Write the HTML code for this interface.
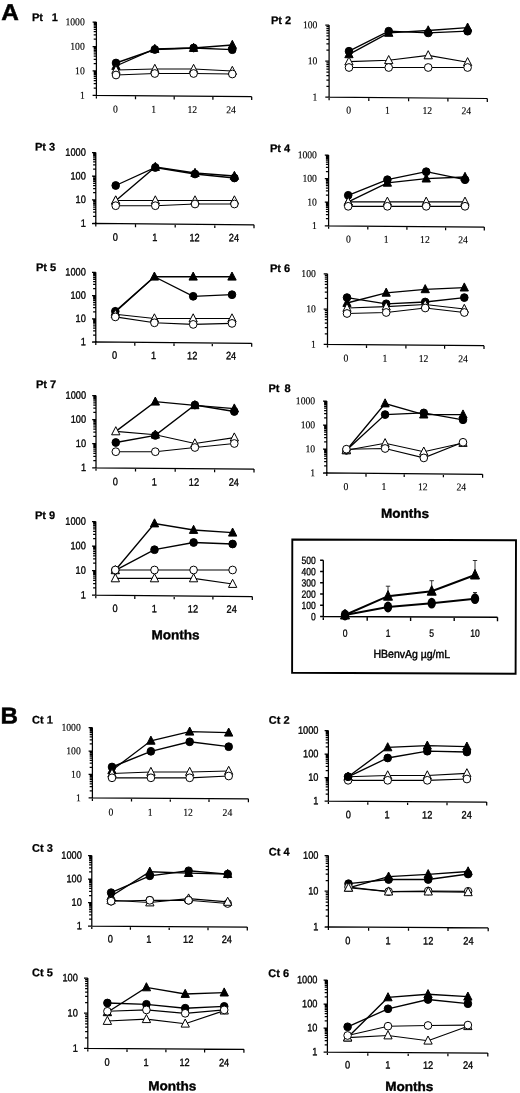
<!DOCTYPE html>
<html><head><meta charset="utf-8"><title>Figure</title>
<style>
html,body{margin:0;padding:0;background:#fff;}
body{width:520px;height:1093px;overflow:hidden;font-family:"Liberation Sans",sans-serif;}
svg{display:block;}
</style></head><body>
<svg width="520" height="1093" viewBox="0 0 520 1093">
<defs><filter id="soft" x="-2%" y="-2%" width="104%" height="104%"><feGaussianBlur stdDeviation="0.35"/></filter></defs>
<rect width="520" height="1093" fill="#fff"/>
<g filter="url(#soft)">
<text transform="translate(32,21) rotate(0.3)" font-family='"Liberation Sans", sans-serif' font-weight="bold" font-size="11" stroke="#000" stroke-width="0.25" word-spacing="1.3" xml:space="preserve">Pt  1</text>
<path d="M96.4 22.0V98.4M93.1 95.37L251.7 96.70M92.6 22.0H96.4M93.7 39.1H96.4M93.7 34.8H96.4M93.7 31.7H96.4M93.7 29.4H96.4M93.7 27.4H96.4M93.7 25.8H96.4M93.7 24.4H96.4M93.7 23.1H96.4M92.6 46.5H96.4M93.7 63.6H96.4M93.7 59.3H96.4M93.7 56.2H96.4M93.7 53.8H96.4M93.7 51.9H96.4M93.7 50.3H96.4M93.7 48.8H96.4M93.7 47.6H96.4M92.6 70.9H96.4M93.7 88.0H96.4M93.7 83.7H96.4M93.7 80.7H96.4M93.7 78.3H96.4M93.7 76.4H96.4M93.7 74.7H96.4M93.7 73.3H96.4M93.7 72.1H96.4M92.6 95.4H96.4M135.5 95.73V99.13M174.2 96.05V99.45M212.9 96.38V99.78M251.7 96.70V100.10" stroke="#000" stroke-width="1.25" fill="none"/>
<text transform="translate(84.7,25.3) rotate(0.3) scale(0.91,1)" text-anchor="end" font-family='"Liberation Serif", serif' font-size="10.6" stroke="#000" stroke-width="0.15">1000</text>
<text transform="translate(84.7,49.8) rotate(0.3) scale(0.91,1)" text-anchor="end" font-family='"Liberation Serif", serif' font-size="10.6" stroke="#000" stroke-width="0.15">100</text>
<text transform="translate(84.7,74.2) rotate(0.3) scale(0.91,1)" text-anchor="end" font-family='"Liberation Serif", serif' font-size="10.6" stroke="#000" stroke-width="0.15">10</text>
<text transform="translate(84.7,98.7) rotate(0.3) scale(0.91,1)" text-anchor="end" font-family='"Liberation Serif", serif' font-size="10.6" stroke="#000" stroke-width="0.15">1</text>
<text transform="translate(115.3,112.60) rotate(0.3) scale(0.91,1)" text-anchor="middle" font-family='"Liberation Serif", serif' font-size="10.6" stroke="#000" stroke-width="0.15">0</text>
<text transform="translate(153.6,112.79) rotate(0.3) scale(0.91,1)" text-anchor="middle" font-family='"Liberation Serif", serif' font-size="10.6" stroke="#000" stroke-width="0.15">1</text>
<text transform="translate(192.3,112.99) rotate(0.3) scale(0.91,1)" text-anchor="middle" font-family='"Liberation Serif", serif' font-size="10.6" stroke="#000" stroke-width="0.15">12</text>
<text transform="translate(231.0,113.18) rotate(0.3) scale(0.91,1)" text-anchor="middle" font-family='"Liberation Serif", serif' font-size="10.6" stroke="#000" stroke-width="0.15">24</text>
<polyline points="116.0,66.0 154.8,49.0 193.6,48.0 232.3,45.0" fill="none" stroke="#000" stroke-width="1.35"/>
<polyline points="116.0,63.0 154.8,49.5 193.6,48.0 232.3,49.7" fill="none" stroke="#000" stroke-width="1.35"/>
<polyline points="116.0,70.0 154.8,69.0 193.6,69.0 232.3,71.0" fill="none" stroke="#000" stroke-width="1.15"/>
<polyline points="116.0,75.0 154.8,73.5 193.6,73.5 232.3,74.0" fill="none" stroke="#000" stroke-width="1.15"/>
<path d="M116.0 61.3L120.1 69.4L111.8 69.4Z" fill="#000" stroke="#000" stroke-width="1" stroke-linejoin="miter"/>
<path d="M154.8 44.3L159.0 52.4L150.7 52.4Z" fill="#000" stroke="#000" stroke-width="1" stroke-linejoin="miter"/>
<path d="M193.6 43.3L197.7 51.4L189.4 51.4Z" fill="#000" stroke="#000" stroke-width="1" stroke-linejoin="miter"/>
<path d="M232.3 40.3L236.5 48.4L228.2 48.4Z" fill="#000" stroke="#000" stroke-width="1" stroke-linejoin="miter"/>
<ellipse cx="116.0" cy="63.0" rx="3.8" ry="3.9" fill="#000" stroke="#000" stroke-width="1"/>
<ellipse cx="154.8" cy="49.5" rx="3.8" ry="3.9" fill="#000" stroke="#000" stroke-width="1"/>
<ellipse cx="193.6" cy="48.0" rx="3.8" ry="3.9" fill="#000" stroke="#000" stroke-width="1"/>
<ellipse cx="232.3" cy="49.7" rx="3.8" ry="3.9" fill="#000" stroke="#000" stroke-width="1"/>
<path d="M116.0 65.3L120.1 73.4L111.8 73.4Z" fill="#fff" stroke="#000" stroke-width="1" stroke-linejoin="miter"/>
<path d="M154.8 64.3L159.0 72.4L150.7 72.4Z" fill="#fff" stroke="#000" stroke-width="1" stroke-linejoin="miter"/>
<path d="M193.6 64.3L197.7 72.4L189.4 72.4Z" fill="#fff" stroke="#000" stroke-width="1" stroke-linejoin="miter"/>
<path d="M232.3 66.3L236.5 74.4L228.2 74.4Z" fill="#fff" stroke="#000" stroke-width="1" stroke-linejoin="miter"/>
<ellipse cx="116.0" cy="75.0" rx="3.8" ry="3.9" fill="#fff" stroke="#000" stroke-width="1"/>
<ellipse cx="154.8" cy="73.5" rx="3.8" ry="3.9" fill="#fff" stroke="#000" stroke-width="1"/>
<ellipse cx="193.6" cy="73.5" rx="3.8" ry="3.9" fill="#fff" stroke="#000" stroke-width="1"/>
<ellipse cx="232.3" cy="74.0" rx="3.8" ry="3.9" fill="#fff" stroke="#000" stroke-width="1"/>
<text transform="translate(271,24) rotate(0.3)" font-family='"Liberation Sans", sans-serif' font-weight="bold" font-size="11" stroke="#000" stroke-width="0.25" word-spacing="0" xml:space="preserve">Pt 2</text>
<path d="M329.1 25.0V100.2M325.8 97.17L487.3 98.50M325.3 25.0H329.1M326.4 50.2H329.1M326.4 43.9H329.1M326.4 39.4H329.1M326.4 35.9H329.1M326.4 33.0H329.1M326.4 30.6H329.1M326.4 28.5H329.1M326.4 26.7H329.1M325.3 61.1H329.1M326.4 86.3H329.1M326.4 80.0H329.1M326.4 75.5H329.1M326.4 72.0H329.1M326.4 69.1H329.1M326.4 66.7H329.1M326.4 64.6H329.1M326.4 62.8H329.1M325.3 97.2H329.1M368.8 97.53V100.93M408.6 97.85V101.25M447.9 98.18V101.58M487.3 98.50V101.90" stroke="#000" stroke-width="1.25" fill="none"/>
<text transform="translate(317.4,28.3) rotate(0.3) scale(0.91,1)" text-anchor="end" font-family='"Liberation Serif", serif' font-size="10.6" stroke="#000" stroke-width="0.15">100</text>
<text transform="translate(317.4,64.4) rotate(0.3) scale(0.91,1)" text-anchor="end" font-family='"Liberation Serif", serif' font-size="10.6" stroke="#000" stroke-width="0.15">10</text>
<text transform="translate(317.4,100.5) rotate(0.3) scale(0.91,1)" text-anchor="end" font-family='"Liberation Serif", serif' font-size="10.6" stroke="#000" stroke-width="0.15">1</text>
<text transform="translate(348.6,113.60) rotate(0.3) scale(0.91,1)" text-anchor="middle" font-family='"Liberation Serif", serif' font-size="10.6" stroke="#000" stroke-width="0.15">0</text>
<text transform="translate(387.5,113.79) rotate(0.3) scale(0.91,1)" text-anchor="middle" font-family='"Liberation Serif", serif' font-size="10.6" stroke="#000" stroke-width="0.15">1</text>
<text transform="translate(427.3,113.99) rotate(0.3) scale(0.91,1)" text-anchor="middle" font-family='"Liberation Serif", serif' font-size="10.6" stroke="#000" stroke-width="0.15">12</text>
<text transform="translate(466.3,114.18) rotate(0.3) scale(0.91,1)" text-anchor="middle" font-family='"Liberation Serif", serif' font-size="10.6" stroke="#000" stroke-width="0.15">24</text>
<polyline points="349.0,54.3 388.7,32.9 428.2,30.5 467.6,27.7" fill="none" stroke="#000" stroke-width="1.35"/>
<polyline points="349.0,51.2 388.7,31.2 428.2,32.9 467.6,31.2" fill="none" stroke="#000" stroke-width="1.35"/>
<polyline points="349.0,61.6 388.7,60.2 428.2,55.4 467.6,62.3" fill="none" stroke="#000" stroke-width="1.15"/>
<polyline points="349.0,67.5 388.7,67.5 428.2,67.5 467.6,67.5" fill="none" stroke="#000" stroke-width="1.15"/>
<path d="M349.0 49.6L353.1 57.7L344.8 57.7Z" fill="#000" stroke="#000" stroke-width="1" stroke-linejoin="miter"/>
<path d="M388.7 28.2L392.9 36.3L384.6 36.3Z" fill="#000" stroke="#000" stroke-width="1" stroke-linejoin="miter"/>
<path d="M428.2 25.8L432.4 33.9L424.1 33.9Z" fill="#000" stroke="#000" stroke-width="1" stroke-linejoin="miter"/>
<path d="M467.6 23.0L471.8 31.1L463.5 31.1Z" fill="#000" stroke="#000" stroke-width="1" stroke-linejoin="miter"/>
<ellipse cx="349.0" cy="51.2" rx="3.8" ry="3.9" fill="#000" stroke="#000" stroke-width="1"/>
<ellipse cx="388.7" cy="31.2" rx="3.8" ry="3.9" fill="#000" stroke="#000" stroke-width="1"/>
<ellipse cx="428.2" cy="32.9" rx="3.8" ry="3.9" fill="#000" stroke="#000" stroke-width="1"/>
<ellipse cx="467.6" cy="31.2" rx="3.8" ry="3.9" fill="#000" stroke="#000" stroke-width="1"/>
<path d="M349.0 56.9L353.1 65.0L344.8 65.0Z" fill="#fff" stroke="#000" stroke-width="1" stroke-linejoin="miter"/>
<path d="M388.7 55.5L392.9 63.6L384.6 63.6Z" fill="#fff" stroke="#000" stroke-width="1" stroke-linejoin="miter"/>
<path d="M428.2 50.7L432.4 58.8L424.1 58.8Z" fill="#fff" stroke="#000" stroke-width="1" stroke-linejoin="miter"/>
<path d="M467.6 57.6L471.8 65.7L463.5 65.7Z" fill="#fff" stroke="#000" stroke-width="1" stroke-linejoin="miter"/>
<ellipse cx="349.0" cy="67.5" rx="3.8" ry="3.9" fill="#fff" stroke="#000" stroke-width="1"/>
<ellipse cx="388.7" cy="67.5" rx="3.8" ry="3.9" fill="#fff" stroke="#000" stroke-width="1"/>
<ellipse cx="428.2" cy="67.5" rx="3.8" ry="3.9" fill="#fff" stroke="#000" stroke-width="1"/>
<ellipse cx="467.6" cy="67.5" rx="3.8" ry="3.9" fill="#fff" stroke="#000" stroke-width="1"/>
<text transform="translate(35,150.5) rotate(0.3)" font-family='"Liberation Sans", sans-serif' font-weight="bold" font-size="11" stroke="#000" stroke-width="0.25" word-spacing="0" xml:space="preserve">Pt 3</text>
<path d="M95.8 152.5V226.5M92.5 223.47L254.0 224.80M92.0 152.5H95.8M93.1 169.0H95.8M93.1 164.9H95.8M93.1 161.9H95.8M93.1 159.6H95.8M93.1 157.8H95.8M93.1 156.2H95.8M93.1 154.8H95.8M93.1 153.6H95.8M92.0 176.2H95.8M93.1 192.7H95.8M93.1 188.5H95.8M93.1 185.6H95.8M93.1 183.3H95.8M93.1 181.4H95.8M93.1 179.8H95.8M93.1 178.5H95.8M93.1 177.2H95.8M92.0 199.8H95.8M93.1 216.4H95.8M93.1 212.2H95.8M93.1 209.3H95.8M93.1 207.0H95.8M93.1 205.1H95.8M93.1 203.5H95.8M93.1 202.1H95.8M93.1 200.9H95.8M92.0 223.5H95.8M135.5 223.83V227.23M175.2 224.15V227.55M214.8 224.48V227.88M254.0 224.80V228.20" stroke="#000" stroke-width="1.25" fill="none"/>
<text transform="translate(85.8,155.8) rotate(0.3) scale(0.86,1)" text-anchor="end" font-family='"Liberation Sans", sans-serif' font-size="10.7" stroke="#000" stroke-width="0.35">1000</text>
<text transform="translate(85.8,179.5) rotate(0.3) scale(0.86,1)" text-anchor="end" font-family='"Liberation Sans", sans-serif' font-size="10.7" stroke="#000" stroke-width="0.35">100</text>
<text transform="translate(85.8,203.1) rotate(0.3) scale(0.86,1)" text-anchor="end" font-family='"Liberation Sans", sans-serif' font-size="10.7" stroke="#000" stroke-width="0.35">10</text>
<text transform="translate(85.8,226.8) rotate(0.3) scale(0.86,1)" text-anchor="end" font-family='"Liberation Sans", sans-serif' font-size="10.7" stroke="#000" stroke-width="0.35">1</text>
<text transform="translate(115.2,240.80) rotate(0.3) scale(0.86,1)" text-anchor="middle" font-family='"Liberation Sans", sans-serif' font-size="10.7" stroke="#000" stroke-width="0.35">0</text>
<text transform="translate(154.9,241.00) rotate(0.3) scale(0.86,1)" text-anchor="middle" font-family='"Liberation Sans", sans-serif' font-size="10.7" stroke="#000" stroke-width="0.35">1</text>
<text transform="translate(194.5,241.19) rotate(0.3) scale(0.86,1)" text-anchor="middle" font-family='"Liberation Sans", sans-serif' font-size="10.7" stroke="#000" stroke-width="0.35">12</text>
<text transform="translate(233.9,241.39) rotate(0.3) scale(0.86,1)" text-anchor="middle" font-family='"Liberation Sans", sans-serif' font-size="10.7" stroke="#000" stroke-width="0.35">24</text>
<polyline points="115.7,200.8 155.3,167.0 195.0,173.0 234.4,176.0" fill="none" stroke="#000" stroke-width="1.35"/>
<polyline points="115.7,185.5 155.3,167.5 195.0,174.0 234.4,178.0" fill="none" stroke="#000" stroke-width="1.35"/>
<polyline points="115.7,200.5 155.3,200.5 195.0,200.5 234.4,200.5" fill="none" stroke="#000" stroke-width="1.15"/>
<polyline points="115.7,205.7 155.3,205.7 195.0,204.0 234.4,204.0" fill="none" stroke="#000" stroke-width="1.15"/>
<path d="M115.7 196.1L119.8 204.2L111.5 204.2Z" fill="#000" stroke="#000" stroke-width="1" stroke-linejoin="miter"/>
<path d="M155.3 162.3L159.5 170.4L151.2 170.4Z" fill="#000" stroke="#000" stroke-width="1" stroke-linejoin="miter"/>
<path d="M195.0 168.3L199.2 176.4L190.8 176.4Z" fill="#000" stroke="#000" stroke-width="1" stroke-linejoin="miter"/>
<path d="M234.4 171.3L238.6 179.4L230.2 179.4Z" fill="#000" stroke="#000" stroke-width="1" stroke-linejoin="miter"/>
<ellipse cx="115.7" cy="185.5" rx="3.8" ry="3.9" fill="#000" stroke="#000" stroke-width="1"/>
<ellipse cx="155.3" cy="167.5" rx="3.8" ry="3.9" fill="#000" stroke="#000" stroke-width="1"/>
<ellipse cx="195.0" cy="174.0" rx="3.8" ry="3.9" fill="#000" stroke="#000" stroke-width="1"/>
<ellipse cx="234.4" cy="178.0" rx="3.8" ry="3.9" fill="#000" stroke="#000" stroke-width="1"/>
<path d="M115.7 195.8L119.8 203.9L111.5 203.9Z" fill="#fff" stroke="#000" stroke-width="1" stroke-linejoin="miter"/>
<path d="M155.3 195.8L159.5 203.9L151.2 203.9Z" fill="#fff" stroke="#000" stroke-width="1" stroke-linejoin="miter"/>
<path d="M195.0 195.8L199.2 203.9L190.8 203.9Z" fill="#fff" stroke="#000" stroke-width="1" stroke-linejoin="miter"/>
<path d="M234.4 195.8L238.6 203.9L230.2 203.9Z" fill="#fff" stroke="#000" stroke-width="1" stroke-linejoin="miter"/>
<ellipse cx="115.7" cy="205.7" rx="3.8" ry="3.9" fill="#fff" stroke="#000" stroke-width="1"/>
<ellipse cx="155.3" cy="205.7" rx="3.8" ry="3.9" fill="#fff" stroke="#000" stroke-width="1"/>
<ellipse cx="195.0" cy="204.0" rx="3.8" ry="3.9" fill="#fff" stroke="#000" stroke-width="1"/>
<ellipse cx="234.4" cy="204.0" rx="3.8" ry="3.9" fill="#fff" stroke="#000" stroke-width="1"/>
<text transform="translate(270,151.9) rotate(0.3)" font-family='"Liberation Sans", sans-serif' font-weight="bold" font-size="11" stroke="#000" stroke-width="0.25" word-spacing="0" xml:space="preserve">Pt 4</text>
<path d="M328.6 155.0V228.8M325.3 225.77L484.3 227.10M324.8 155.0H328.6M325.9 171.5H328.6M325.9 167.3H328.6M325.9 164.4H328.6M325.9 162.1H328.6M325.9 160.2H328.6M325.9 158.7H328.6M325.9 157.3H328.6M325.9 156.1H328.6M324.8 178.6H328.6M325.9 195.1H328.6M325.9 190.9H328.6M325.9 188.0H328.6M325.9 185.7H328.6M325.9 183.8H328.6M325.9 182.3H328.6M325.9 180.9H328.6M325.9 179.7H328.6M324.8 202.2H328.6M325.9 218.7H328.6M325.9 214.5H328.6M325.9 211.6H328.6M325.9 209.3H328.6M325.9 207.4H328.6M325.9 205.9H328.6M325.9 204.5H328.6M325.9 203.3H328.6M324.8 225.8H328.6M367.8 226.13V229.53M406.9 226.45V229.85M445.6 226.78V230.18M484.3 227.10V230.50" stroke="#000" stroke-width="1.25" fill="none"/>
<text transform="translate(316.9,158.3) rotate(0.3) scale(0.91,1)" text-anchor="end" font-family='"Liberation Serif", serif' font-size="10.6" stroke="#000" stroke-width="0.15">1000</text>
<text transform="translate(316.9,181.9) rotate(0.3) scale(0.91,1)" text-anchor="end" font-family='"Liberation Serif", serif' font-size="10.6" stroke="#000" stroke-width="0.15">100</text>
<text transform="translate(316.9,205.5) rotate(0.3) scale(0.91,1)" text-anchor="end" font-family='"Liberation Serif", serif' font-size="10.6" stroke="#000" stroke-width="0.15">10</text>
<text transform="translate(316.9,229.1) rotate(0.3) scale(0.91,1)" text-anchor="end" font-family='"Liberation Serif", serif' font-size="10.6" stroke="#000" stroke-width="0.15">1</text>
<text transform="translate(348.3,242.60) rotate(0.3) scale(0.91,1)" text-anchor="middle" font-family='"Liberation Serif", serif' font-size="10.6" stroke="#000" stroke-width="0.15">0</text>
<text transform="translate(386.2,242.79) rotate(0.3) scale(0.91,1)" text-anchor="middle" font-family='"Liberation Serif", serif' font-size="10.6" stroke="#000" stroke-width="0.15">1</text>
<text transform="translate(424.9,242.98) rotate(0.3) scale(0.91,1)" text-anchor="middle" font-family='"Liberation Serif", serif' font-size="10.6" stroke="#000" stroke-width="0.15">12</text>
<text transform="translate(463.1,243.18) rotate(0.3) scale(0.91,1)" text-anchor="middle" font-family='"Liberation Serif", serif' font-size="10.6" stroke="#000" stroke-width="0.15">24</text>
<polyline points="348.2,201.8 387.4,182.8 426.2,178.6 465.0,177.0" fill="none" stroke="#000" stroke-width="1.35"/>
<polyline points="348.2,195.3 387.4,179.7 426.2,171.7 465.0,179.7" fill="none" stroke="#000" stroke-width="1.35"/>
<polyline points="348.2,201.8 387.4,201.8 426.2,201.8 465.0,201.8" fill="none" stroke="#000" stroke-width="1.15"/>
<polyline points="348.2,206.3 387.4,206.3 426.2,206.3 465.0,206.3" fill="none" stroke="#000" stroke-width="1.15"/>
<path d="M348.2 197.1L352.4 205.2L344.1 205.2Z" fill="#000" stroke="#000" stroke-width="1" stroke-linejoin="miter"/>
<path d="M387.4 178.1L391.5 186.2L383.2 186.2Z" fill="#000" stroke="#000" stroke-width="1" stroke-linejoin="miter"/>
<path d="M426.2 173.9L430.4 182.0L422.1 182.0Z" fill="#000" stroke="#000" stroke-width="1" stroke-linejoin="miter"/>
<path d="M465.0 172.3L469.1 180.4L460.8 180.4Z" fill="#000" stroke="#000" stroke-width="1" stroke-linejoin="miter"/>
<ellipse cx="348.2" cy="195.3" rx="3.8" ry="3.9" fill="#000" stroke="#000" stroke-width="1"/>
<ellipse cx="387.4" cy="179.7" rx="3.8" ry="3.9" fill="#000" stroke="#000" stroke-width="1"/>
<ellipse cx="426.2" cy="171.7" rx="3.8" ry="3.9" fill="#000" stroke="#000" stroke-width="1"/>
<ellipse cx="465.0" cy="179.7" rx="3.8" ry="3.9" fill="#000" stroke="#000" stroke-width="1"/>
<path d="M348.2 197.1L352.4 205.2L344.1 205.2Z" fill="#fff" stroke="#000" stroke-width="1" stroke-linejoin="miter"/>
<path d="M387.4 197.1L391.5 205.2L383.2 205.2Z" fill="#fff" stroke="#000" stroke-width="1" stroke-linejoin="miter"/>
<path d="M426.2 197.1L430.4 205.2L422.1 205.2Z" fill="#fff" stroke="#000" stroke-width="1" stroke-linejoin="miter"/>
<path d="M465.0 197.1L469.1 205.2L460.8 205.2Z" fill="#fff" stroke="#000" stroke-width="1" stroke-linejoin="miter"/>
<ellipse cx="348.2" cy="206.3" rx="3.8" ry="3.9" fill="#fff" stroke="#000" stroke-width="1"/>
<ellipse cx="387.4" cy="206.3" rx="3.8" ry="3.9" fill="#fff" stroke="#000" stroke-width="1"/>
<ellipse cx="426.2" cy="206.3" rx="3.8" ry="3.9" fill="#fff" stroke="#000" stroke-width="1"/>
<ellipse cx="465.0" cy="206.3" rx="3.8" ry="3.9" fill="#fff" stroke="#000" stroke-width="1"/>
<text transform="translate(36,271) rotate(0.3)" font-family='"Liberation Sans", sans-serif' font-weight="bold" font-size="11" stroke="#000" stroke-width="0.25" word-spacing="0" xml:space="preserve">Pt 5</text>
<path d="M95.8 272.3V345.0M92.5 341.97L251.7 343.30M92.0 272.3H95.8M93.1 288.5H95.8M93.1 284.4H95.8M93.1 281.5H95.8M93.1 279.3H95.8M93.1 277.5H95.8M93.1 275.9H95.8M93.1 274.6H95.8M93.1 273.4H95.8M92.0 295.5H95.8M93.1 311.8H95.8M93.1 307.7H95.8M93.1 304.8H95.8M93.1 302.5H95.8M93.1 300.7H95.8M93.1 299.1H95.8M93.1 297.8H95.8M93.1 296.6H95.8M92.0 318.8H95.8M93.1 335.0H95.8M93.1 330.9H95.8M93.1 328.0H95.8M93.1 325.8H95.8M93.1 323.9H95.8M93.1 322.4H95.8M93.1 321.0H95.8M93.1 319.8H95.8M92.0 342.0H95.8M134.8 342.33V345.73M174.0 342.65V346.05M212.3 342.97V346.37M251.7 343.30V346.70" stroke="#000" stroke-width="1.25" fill="none"/>
<text transform="translate(85.8,275.6) rotate(0.3) scale(0.86,1)" text-anchor="end" font-family='"Liberation Sans", sans-serif' font-size="10.7" stroke="#000" stroke-width="0.35">1000</text>
<text transform="translate(85.8,298.8) rotate(0.3) scale(0.86,1)" text-anchor="end" font-family='"Liberation Sans", sans-serif' font-size="10.7" stroke="#000" stroke-width="0.35">100</text>
<text transform="translate(85.8,322.1) rotate(0.3) scale(0.86,1)" text-anchor="end" font-family='"Liberation Sans", sans-serif' font-size="10.7" stroke="#000" stroke-width="0.35">10</text>
<text transform="translate(85.8,345.3) rotate(0.3) scale(0.86,1)" text-anchor="end" font-family='"Liberation Sans", sans-serif' font-size="10.7" stroke="#000" stroke-width="0.35">1</text>
<text transform="translate(114.6,358.80) rotate(0.3) scale(0.86,1)" text-anchor="middle" font-family='"Liberation Sans", sans-serif' font-size="10.7" stroke="#000" stroke-width="0.35">0</text>
<text transform="translate(153.5,358.99) rotate(0.3) scale(0.86,1)" text-anchor="middle" font-family='"Liberation Sans", sans-serif' font-size="10.7" stroke="#000" stroke-width="0.35">1</text>
<text transform="translate(192.2,359.19) rotate(0.3) scale(0.86,1)" text-anchor="middle" font-family='"Liberation Sans", sans-serif' font-size="10.7" stroke="#000" stroke-width="0.35">12</text>
<text transform="translate(231.0,359.38) rotate(0.3) scale(0.86,1)" text-anchor="middle" font-family='"Liberation Sans", sans-serif' font-size="10.7" stroke="#000" stroke-width="0.35">24</text>
<polyline points="115.3,312.0 154.4,276.7 193.2,276.7 232.0,276.7" fill="none" stroke="#000" stroke-width="1.35"/>
<polyline points="115.3,311.3 154.4,276.7 193.2,296.3 232.0,294.7" fill="none" stroke="#000" stroke-width="1.35"/>
<polyline points="115.3,314.3 154.4,318.5 193.2,318.5 232.0,318.5" fill="none" stroke="#000" stroke-width="1.15"/>
<polyline points="115.3,316.9 154.4,322.8 193.2,324.4 232.0,323.4" fill="none" stroke="#000" stroke-width="1.15"/>
<path d="M115.3 307.3L119.5 315.4L111.2 315.4Z" fill="#000" stroke="#000" stroke-width="1" stroke-linejoin="miter"/>
<path d="M154.4 272.0L158.6 280.1L150.2 280.1Z" fill="#000" stroke="#000" stroke-width="1" stroke-linejoin="miter"/>
<path d="M193.2 272.0L197.3 280.1L189.0 280.1Z" fill="#000" stroke="#000" stroke-width="1" stroke-linejoin="miter"/>
<path d="M232.0 272.0L236.2 280.1L227.8 280.1Z" fill="#000" stroke="#000" stroke-width="1" stroke-linejoin="miter"/>
<ellipse cx="115.3" cy="311.3" rx="3.8" ry="3.9" fill="#000" stroke="#000" stroke-width="1"/>
<ellipse cx="193.2" cy="296.3" rx="3.8" ry="3.9" fill="#000" stroke="#000" stroke-width="1"/>
<ellipse cx="232.0" cy="294.7" rx="3.8" ry="3.9" fill="#000" stroke="#000" stroke-width="1"/>
<path d="M115.3 309.6L119.5 317.7L111.2 317.7Z" fill="#fff" stroke="#000" stroke-width="1" stroke-linejoin="miter"/>
<path d="M154.4 313.8L158.6 321.9L150.2 321.9Z" fill="#fff" stroke="#000" stroke-width="1" stroke-linejoin="miter"/>
<path d="M193.2 313.8L197.3 321.9L189.0 321.9Z" fill="#fff" stroke="#000" stroke-width="1" stroke-linejoin="miter"/>
<path d="M232.0 313.8L236.2 321.9L227.8 321.9Z" fill="#fff" stroke="#000" stroke-width="1" stroke-linejoin="miter"/>
<ellipse cx="115.3" cy="316.9" rx="3.8" ry="3.9" fill="#fff" stroke="#000" stroke-width="1"/>
<ellipse cx="154.4" cy="322.8" rx="3.8" ry="3.9" fill="#fff" stroke="#000" stroke-width="1"/>
<ellipse cx="193.2" cy="324.4" rx="3.8" ry="3.9" fill="#fff" stroke="#000" stroke-width="1"/>
<ellipse cx="232.0" cy="323.4" rx="3.8" ry="3.9" fill="#fff" stroke="#000" stroke-width="1"/>
<text transform="translate(270,272) rotate(0.3)" font-family='"Liberation Sans", sans-serif' font-weight="bold" font-size="11" stroke="#000" stroke-width="0.25" word-spacing="0" xml:space="preserve">Pt 6</text>
<path d="M327.5 273.8V347.4M324.2 344.37L484.0 345.70M323.7 273.8H327.5M324.8 298.4H327.5M324.8 292.2H327.5M324.8 287.8H327.5M324.8 284.4H327.5M324.8 281.6H327.5M324.8 279.2H327.5M324.8 277.2H327.5M324.8 275.4H327.5M323.7 309.1H327.5M324.8 333.8H327.5M324.8 327.5H327.5M324.8 323.1H327.5M324.8 319.7H327.5M324.8 316.9H327.5M324.8 314.5H327.5M324.8 312.5H327.5M324.8 310.7H327.5M323.7 344.4H327.5M366.5 344.72V348.12M405.9 345.05V348.45M444.6 345.37V348.77M484.0 345.70V349.10" stroke="#000" stroke-width="1.25" fill="none"/>
<text transform="translate(315.8,277.1) rotate(0.3) scale(0.91,1)" text-anchor="end" font-family='"Liberation Serif", serif' font-size="10.6" stroke="#000" stroke-width="0.15">100</text>
<text transform="translate(315.8,312.4) rotate(0.3) scale(0.91,1)" text-anchor="end" font-family='"Liberation Serif", serif' font-size="10.6" stroke="#000" stroke-width="0.15">10</text>
<text transform="translate(315.8,347.7) rotate(0.3) scale(0.91,1)" text-anchor="end" font-family='"Liberation Serif", serif' font-size="10.6" stroke="#000" stroke-width="0.15">1</text>
<text transform="translate(346.0,361.60) rotate(0.3) scale(0.91,1)" text-anchor="middle" font-family='"Liberation Serif", serif' font-size="10.6" stroke="#000" stroke-width="0.15">0</text>
<text transform="translate(385.0,361.79) rotate(0.3) scale(0.91,1)" text-anchor="middle" font-family='"Liberation Serif", serif' font-size="10.6" stroke="#000" stroke-width="0.15">1</text>
<text transform="translate(423.5,361.99) rotate(0.3) scale(0.91,1)" text-anchor="middle" font-family='"Liberation Serif", serif' font-size="10.6" stroke="#000" stroke-width="0.15">12</text>
<text transform="translate(463.1,362.18) rotate(0.3) scale(0.91,1)" text-anchor="middle" font-family='"Liberation Serif", serif' font-size="10.6" stroke="#000" stroke-width="0.15">24</text>
<polyline points="347.0,303.0 386.2,292.8 425.2,289.3 464.3,287.6" fill="none" stroke="#000" stroke-width="1.35"/>
<polyline points="347.0,297.6 386.2,303.8 425.2,302.0 464.3,297.6" fill="none" stroke="#000" stroke-width="1.35"/>
<polyline points="347.0,308.0 386.2,306.6 425.2,304.5 464.3,309.0" fill="none" stroke="#000" stroke-width="1.15"/>
<polyline points="347.0,313.5 386.2,312.5 425.2,308.0 464.3,312.5" fill="none" stroke="#000" stroke-width="1.15"/>
<path d="M347.0 298.3L351.1 306.4L342.9 306.4Z" fill="#000" stroke="#000" stroke-width="1" stroke-linejoin="miter"/>
<path d="M386.2 288.1L390.3 296.2L382.1 296.2Z" fill="#000" stroke="#000" stroke-width="1" stroke-linejoin="miter"/>
<path d="M425.2 284.6L429.4 292.7L421.1 292.7Z" fill="#000" stroke="#000" stroke-width="1" stroke-linejoin="miter"/>
<path d="M464.3 282.9L468.4 291.0L460.2 291.0Z" fill="#000" stroke="#000" stroke-width="1" stroke-linejoin="miter"/>
<ellipse cx="347.0" cy="297.6" rx="3.8" ry="3.9" fill="#000" stroke="#000" stroke-width="1"/>
<ellipse cx="386.2" cy="303.8" rx="3.8" ry="3.9" fill="#000" stroke="#000" stroke-width="1"/>
<ellipse cx="425.2" cy="302.0" rx="3.8" ry="3.9" fill="#000" stroke="#000" stroke-width="1"/>
<ellipse cx="464.3" cy="297.6" rx="3.8" ry="3.9" fill="#000" stroke="#000" stroke-width="1"/>
<path d="M347.0 303.3L351.1 311.4L342.9 311.4Z" fill="#fff" stroke="#000" stroke-width="1" stroke-linejoin="miter"/>
<path d="M386.2 301.9L390.3 310.0L382.1 310.0Z" fill="#fff" stroke="#000" stroke-width="1" stroke-linejoin="miter"/>
<path d="M425.2 299.8L429.4 307.9L421.1 307.9Z" fill="#fff" stroke="#000" stroke-width="1" stroke-linejoin="miter"/>
<path d="M464.3 304.3L468.4 312.4L460.2 312.4Z" fill="#fff" stroke="#000" stroke-width="1" stroke-linejoin="miter"/>
<ellipse cx="347.0" cy="313.5" rx="3.8" ry="3.9" fill="#fff" stroke="#000" stroke-width="1"/>
<ellipse cx="386.2" cy="312.5" rx="3.8" ry="3.9" fill="#fff" stroke="#000" stroke-width="1"/>
<ellipse cx="425.2" cy="308.0" rx="3.8" ry="3.9" fill="#fff" stroke="#000" stroke-width="1"/>
<ellipse cx="464.3" cy="312.5" rx="3.8" ry="3.9" fill="#fff" stroke="#000" stroke-width="1"/>
<text transform="translate(36,388) rotate(0.3)" font-family='"Liberation Sans", sans-serif' font-weight="bold" font-size="11" stroke="#000" stroke-width="0.25" word-spacing="0" xml:space="preserve">Pt 7</text>
<path d="M96.0 395.5V470.8M92.7 467.77L254.0 469.10M92.2 395.5H96.0M93.3 412.3H96.0M93.3 408.1H96.0M93.3 405.1H96.0M93.3 402.8H96.0M93.3 400.8H96.0M93.3 399.2H96.0M93.3 397.8H96.0M93.3 396.6H96.0M92.2 419.6H96.0M93.3 436.4H96.0M93.3 432.2H96.0M93.3 429.2H96.0M93.3 426.9H96.0M93.3 424.9H96.0M93.3 423.3H96.0M93.3 421.9H96.0M93.3 420.7H96.0M92.2 443.7H96.0M93.3 460.5H96.0M93.3 456.3H96.0M93.3 453.3H96.0M93.3 451.0H96.0M93.3 449.0H96.0M93.3 447.4H96.0M93.3 446.0H96.0M93.3 444.8H96.0M92.2 467.8H96.0M135.5 468.12V471.52M175.2 468.45V471.85M214.6 468.78V472.18M254.0 469.10V472.50" stroke="#000" stroke-width="1.25" fill="none"/>
<text transform="translate(86.0,398.8) rotate(0.3) scale(0.86,1)" text-anchor="end" font-family='"Liberation Sans", sans-serif' font-size="10.7" stroke="#000" stroke-width="0.35">1000</text>
<text transform="translate(86.0,422.9) rotate(0.3) scale(0.86,1)" text-anchor="end" font-family='"Liberation Sans", sans-serif' font-size="10.7" stroke="#000" stroke-width="0.35">100</text>
<text transform="translate(86.0,447.0) rotate(0.3) scale(0.86,1)" text-anchor="end" font-family='"Liberation Sans", sans-serif' font-size="10.7" stroke="#000" stroke-width="0.35">10</text>
<text transform="translate(86.0,471.1) rotate(0.3) scale(0.86,1)" text-anchor="end" font-family='"Liberation Sans", sans-serif' font-size="10.7" stroke="#000" stroke-width="0.35">1</text>
<text transform="translate(115.2,485.30) rotate(0.3) scale(0.86,1)" text-anchor="middle" font-family='"Liberation Sans", sans-serif' font-size="10.7" stroke="#000" stroke-width="0.35">0</text>
<text transform="translate(154.2,485.49) rotate(0.3) scale(0.86,1)" text-anchor="middle" font-family='"Liberation Sans", sans-serif' font-size="10.7" stroke="#000" stroke-width="0.35">1</text>
<text transform="translate(193.9,485.69) rotate(0.3) scale(0.86,1)" text-anchor="middle" font-family='"Liberation Sans", sans-serif' font-size="10.7" stroke="#000" stroke-width="0.35">12</text>
<text transform="translate(233.8,485.89) rotate(0.3) scale(0.86,1)" text-anchor="middle" font-family='"Liberation Sans", sans-serif' font-size="10.7" stroke="#000" stroke-width="0.35">24</text>
<polyline points="115.8,431.4 155.3,434.7 194.9,443.5 234.3,437.6" fill="none" stroke="#000" stroke-width="1.15"/>
<polyline points="115.8,451.7 155.3,451.7 194.9,447.5 234.3,443.5" fill="none" stroke="#000" stroke-width="1.15"/>
<polyline points="115.8,431.4 155.3,401.7 194.9,405.3 234.3,408.6" fill="none" stroke="#000" stroke-width="1.35"/>
<polyline points="115.8,442.5 155.3,435.4 194.9,405.0 234.3,411.5" fill="none" stroke="#000" stroke-width="1.35"/>
<path d="M115.8 426.7L119.9 434.8L111.6 434.8Z" fill="#fff" stroke="#000" stroke-width="1" stroke-linejoin="miter"/>
<path d="M155.3 430.0L159.5 438.1L151.2 438.1Z" fill="#fff" stroke="#000" stroke-width="1" stroke-linejoin="miter"/>
<path d="M194.9 438.8L199.0 446.9L190.7 446.9Z" fill="#fff" stroke="#000" stroke-width="1" stroke-linejoin="miter"/>
<path d="M234.3 432.9L238.5 441.0L230.2 441.0Z" fill="#fff" stroke="#000" stroke-width="1" stroke-linejoin="miter"/>
<ellipse cx="115.8" cy="451.7" rx="3.8" ry="3.9" fill="#fff" stroke="#000" stroke-width="1"/>
<ellipse cx="155.3" cy="451.7" rx="3.8" ry="3.9" fill="#fff" stroke="#000" stroke-width="1"/>
<ellipse cx="194.9" cy="447.5" rx="3.8" ry="3.9" fill="#fff" stroke="#000" stroke-width="1"/>
<ellipse cx="234.3" cy="443.5" rx="3.8" ry="3.9" fill="#fff" stroke="#000" stroke-width="1"/>
<path d="M155.3 397.0L159.5 405.1L151.2 405.1Z" fill="#000" stroke="#000" stroke-width="1" stroke-linejoin="miter"/>
<path d="M194.9 400.6L199.0 408.7L190.7 408.7Z" fill="#000" stroke="#000" stroke-width="1" stroke-linejoin="miter"/>
<path d="M234.3 403.9L238.5 412.0L230.2 412.0Z" fill="#000" stroke="#000" stroke-width="1" stroke-linejoin="miter"/>
<ellipse cx="115.8" cy="442.5" rx="3.8" ry="3.9" fill="#000" stroke="#000" stroke-width="1"/>
<ellipse cx="155.3" cy="435.4" rx="3.8" ry="3.9" fill="#000" stroke="#000" stroke-width="1"/>
<ellipse cx="194.9" cy="405.0" rx="3.8" ry="3.9" fill="#000" stroke="#000" stroke-width="1"/>
<ellipse cx="234.3" cy="411.5" rx="3.8" ry="3.9" fill="#000" stroke="#000" stroke-width="1"/>
<text transform="translate(268.5,392) rotate(0.3)" font-family='"Liberation Sans", sans-serif' font-weight="bold" font-size="11" stroke="#000" stroke-width="0.25" word-spacing="2" xml:space="preserve">Pt 8</text>
<path d="M326.8 401.0V476.0M323.5 472.97L482.6 474.30M323.0 401.0H326.8M324.1 417.8H326.8M324.1 413.5H326.8M324.1 410.6H326.8M324.1 408.2H326.8M324.1 406.3H326.8M324.1 404.7H326.8M324.1 403.3H326.8M324.1 402.1H326.8M323.0 425.0H326.8M324.1 441.8H326.8M324.1 437.5H326.8M324.1 434.6H326.8M324.1 432.2H326.8M324.1 430.3H326.8M324.1 428.7H326.8M324.1 427.3H326.8M324.1 426.1H326.8M323.0 449.0H326.8M324.1 465.8H326.8M324.1 461.5H326.8M324.1 458.6H326.8M324.1 456.2H326.8M324.1 454.3H326.8M324.1 452.7H326.8M324.1 451.3H326.8M324.1 450.1H326.8M323.0 473.0H326.8M366.0 473.33V476.73M404.2 473.65V477.05M443.4 473.97V477.37M482.6 474.30V477.70" stroke="#000" stroke-width="1.25" fill="none"/>
<text transform="translate(315.1,404.3) rotate(0.3) scale(0.91,1)" text-anchor="end" font-family='"Liberation Serif", serif' font-size="10.6" stroke="#000" stroke-width="0.15">1000</text>
<text transform="translate(315.1,428.3) rotate(0.3) scale(0.91,1)" text-anchor="end" font-family='"Liberation Serif", serif' font-size="10.6" stroke="#000" stroke-width="0.15">100</text>
<text transform="translate(315.1,452.3) rotate(0.3) scale(0.91,1)" text-anchor="end" font-family='"Liberation Serif", serif' font-size="10.6" stroke="#000" stroke-width="0.15">10</text>
<text transform="translate(315.1,476.3) rotate(0.3) scale(0.91,1)" text-anchor="end" font-family='"Liberation Serif", serif' font-size="10.6" stroke="#000" stroke-width="0.15">1</text>
<text transform="translate(345.9,489.90) rotate(0.3) scale(0.91,1)" text-anchor="middle" font-family='"Liberation Serif", serif' font-size="10.6" stroke="#000" stroke-width="0.15">0</text>
<text transform="translate(384.0,490.09) rotate(0.3) scale(0.91,1)" text-anchor="middle" font-family='"Liberation Serif", serif' font-size="10.6" stroke="#000" stroke-width="0.15">1</text>
<text transform="translate(422.7,490.28) rotate(0.3) scale(0.91,1)" text-anchor="middle" font-family='"Liberation Serif", serif' font-size="10.6" stroke="#000" stroke-width="0.15">12</text>
<text transform="translate(461.2,490.48) rotate(0.3) scale(0.91,1)" text-anchor="middle" font-family='"Liberation Serif", serif' font-size="10.6" stroke="#000" stroke-width="0.15">24</text>
<polyline points="346.4,450.3 385.1,403.5 423.8,414.6 463.0,414.6" fill="none" stroke="#000" stroke-width="1.35"/>
<polyline points="346.4,450.3 385.1,414.6 423.8,412.9 463.0,419.8" fill="none" stroke="#000" stroke-width="1.35"/>
<polyline points="346.4,450.3 385.1,443.3 423.8,451.7 463.0,443.0" fill="none" stroke="#000" stroke-width="1.15"/>
<polyline points="346.4,449.2 385.1,448.5 423.8,457.9 463.0,442.3" fill="none" stroke="#000" stroke-width="1.15"/>
<path d="M346.4 445.6L350.5 453.7L342.2 453.7Z" fill="#000" stroke="#000" stroke-width="1" stroke-linejoin="miter"/>
<path d="M385.1 398.8L389.2 406.9L381.0 406.9Z" fill="#000" stroke="#000" stroke-width="1" stroke-linejoin="miter"/>
<path d="M423.8 409.9L427.9 418.0L419.6 418.0Z" fill="#000" stroke="#000" stroke-width="1" stroke-linejoin="miter"/>
<path d="M463.0 409.9L467.1 418.0L458.9 418.0Z" fill="#000" stroke="#000" stroke-width="1" stroke-linejoin="miter"/>
<ellipse cx="346.4" cy="450.3" rx="3.8" ry="3.9" fill="#000" stroke="#000" stroke-width="1"/>
<ellipse cx="385.1" cy="414.6" rx="3.8" ry="3.9" fill="#000" stroke="#000" stroke-width="1"/>
<ellipse cx="423.8" cy="412.9" rx="3.8" ry="3.9" fill="#000" stroke="#000" stroke-width="1"/>
<ellipse cx="463.0" cy="419.8" rx="3.8" ry="3.9" fill="#000" stroke="#000" stroke-width="1"/>
<path d="M346.4 445.6L350.5 453.7L342.2 453.7Z" fill="#fff" stroke="#000" stroke-width="1" stroke-linejoin="miter"/>
<path d="M385.1 438.6L389.2 446.7L381.0 446.7Z" fill="#fff" stroke="#000" stroke-width="1" stroke-linejoin="miter"/>
<path d="M423.8 447.0L427.9 455.1L419.6 455.1Z" fill="#fff" stroke="#000" stroke-width="1" stroke-linejoin="miter"/>
<path d="M463.0 438.3L467.1 446.4L458.9 446.4Z" fill="#fff" stroke="#000" stroke-width="1" stroke-linejoin="miter"/>
<ellipse cx="346.4" cy="449.2" rx="3.8" ry="3.9" fill="#fff" stroke="#000" stroke-width="1"/>
<ellipse cx="385.1" cy="448.5" rx="3.8" ry="3.9" fill="#fff" stroke="#000" stroke-width="1"/>
<ellipse cx="423.8" cy="457.9" rx="3.8" ry="3.9" fill="#fff" stroke="#000" stroke-width="1"/>
<ellipse cx="463.0" cy="442.3" rx="3.8" ry="3.9" fill="#fff" stroke="#000" stroke-width="1"/>
<text transform="translate(35,519) rotate(0.3)" font-family='"Liberation Sans", sans-serif' font-weight="bold" font-size="11" stroke="#000" stroke-width="0.25" word-spacing="0" xml:space="preserve">Pt 9</text>
<path d="M95.8 521.5V598.2M92.5 595.17L252.3 596.50M92.0 521.5H95.8M93.1 538.7H95.8M93.1 534.3H95.8M93.1 531.3H95.8M93.1 528.9H95.8M93.1 527.0H95.8M93.1 525.3H95.8M93.1 523.9H95.8M93.1 522.6H95.8M92.0 546.1H95.8M93.1 563.2H95.8M93.1 558.9H95.8M93.1 555.8H95.8M93.1 553.5H95.8M93.1 551.5H95.8M93.1 549.9H95.8M93.1 548.4H95.8M93.1 547.2H95.8M92.0 570.6H95.8M93.1 587.8H95.8M93.1 583.5H95.8M93.1 580.4H95.8M93.1 578.0H95.8M93.1 576.1H95.8M93.1 574.4H95.8M93.1 573.0H95.8M93.1 571.8H95.8M92.0 595.2H95.8M134.8 595.52V598.92M174.2 595.85V599.25M212.9 596.17V599.57M252.3 596.50V599.90" stroke="#000" stroke-width="1.25" fill="none"/>
<text transform="translate(85.8,524.8) rotate(0.3) scale(0.86,1)" text-anchor="end" font-family='"Liberation Sans", sans-serif' font-size="10.7" stroke="#000" stroke-width="0.35">1000</text>
<text transform="translate(85.8,549.4) rotate(0.3) scale(0.86,1)" text-anchor="end" font-family='"Liberation Sans", sans-serif' font-size="10.7" stroke="#000" stroke-width="0.35">100</text>
<text transform="translate(85.8,573.9) rotate(0.3) scale(0.86,1)" text-anchor="end" font-family='"Liberation Sans", sans-serif' font-size="10.7" stroke="#000" stroke-width="0.35">10</text>
<text transform="translate(85.8,598.5) rotate(0.3) scale(0.86,1)" text-anchor="end" font-family='"Liberation Sans", sans-serif' font-size="10.7" stroke="#000" stroke-width="0.35">1</text>
<text transform="translate(115.0,612.10) rotate(0.3) scale(0.86,1)" text-anchor="middle" font-family='"Liberation Sans", sans-serif' font-size="10.7" stroke="#000" stroke-width="0.35">0</text>
<text transform="translate(154.2,612.30) rotate(0.3) scale(0.86,1)" text-anchor="middle" font-family='"Liberation Sans", sans-serif' font-size="10.7" stroke="#000" stroke-width="0.35">1</text>
<text transform="translate(192.9,612.49) rotate(0.3) scale(0.86,1)" text-anchor="middle" font-family='"Liberation Sans", sans-serif' font-size="10.7" stroke="#000" stroke-width="0.35">12</text>
<text transform="translate(231.7,612.68) rotate(0.3) scale(0.86,1)" text-anchor="middle" font-family='"Liberation Sans", sans-serif' font-size="10.7" stroke="#000" stroke-width="0.35">24</text>
<polyline points="115.3,570.3 154.5,523.5 193.6,530.0 232.6,532.7" fill="none" stroke="#000" stroke-width="1.35"/>
<polyline points="115.3,570.3 154.5,549.7 193.6,542.5 232.6,544.0" fill="none" stroke="#000" stroke-width="1.35"/>
<polyline points="115.3,578.4 154.5,578.4 193.6,578.4 232.6,584.0" fill="none" stroke="#000" stroke-width="1.15"/>
<polyline points="115.3,570.0 154.5,570.0 193.6,570.0 232.6,570.0" fill="none" stroke="#000" stroke-width="1.15"/>
<path d="M115.3 565.6L119.5 573.7L111.2 573.7Z" fill="#000" stroke="#000" stroke-width="1" stroke-linejoin="miter"/>
<path d="M154.5 518.8L158.7 526.9L150.3 526.9Z" fill="#000" stroke="#000" stroke-width="1" stroke-linejoin="miter"/>
<path d="M193.6 525.3L197.7 533.4L189.4 533.4Z" fill="#000" stroke="#000" stroke-width="1" stroke-linejoin="miter"/>
<path d="M232.6 528.0L236.8 536.1L228.5 536.1Z" fill="#000" stroke="#000" stroke-width="1" stroke-linejoin="miter"/>
<ellipse cx="115.3" cy="570.3" rx="3.8" ry="3.9" fill="#000" stroke="#000" stroke-width="1"/>
<ellipse cx="154.5" cy="549.7" rx="3.8" ry="3.9" fill="#000" stroke="#000" stroke-width="1"/>
<ellipse cx="193.6" cy="542.5" rx="3.8" ry="3.9" fill="#000" stroke="#000" stroke-width="1"/>
<ellipse cx="232.6" cy="544.0" rx="3.8" ry="3.9" fill="#000" stroke="#000" stroke-width="1"/>
<path d="M115.3 573.7L119.5 581.8L111.2 581.8Z" fill="#fff" stroke="#000" stroke-width="1" stroke-linejoin="miter"/>
<path d="M154.5 573.7L158.7 581.8L150.3 581.8Z" fill="#fff" stroke="#000" stroke-width="1" stroke-linejoin="miter"/>
<path d="M193.6 573.7L197.7 581.8L189.4 581.8Z" fill="#fff" stroke="#000" stroke-width="1" stroke-linejoin="miter"/>
<path d="M232.6 579.3L236.8 587.4L228.5 587.4Z" fill="#fff" stroke="#000" stroke-width="1" stroke-linejoin="miter"/>
<ellipse cx="115.3" cy="570.0" rx="3.8" ry="3.9" fill="#fff" stroke="#000" stroke-width="1"/>
<ellipse cx="154.5" cy="570.0" rx="3.8" ry="3.9" fill="#fff" stroke="#000" stroke-width="1"/>
<ellipse cx="193.6" cy="570.0" rx="3.8" ry="3.9" fill="#fff" stroke="#000" stroke-width="1"/>
<ellipse cx="232.6" cy="570.0" rx="3.8" ry="3.9" fill="#fff" stroke="#000" stroke-width="1"/>
<text transform="translate(32,723.5) rotate(0.3)" font-family='"Liberation Sans", sans-serif' font-weight="bold" font-size="11" stroke="#000" stroke-width="0.25" word-spacing="0" xml:space="preserve">Ct 1</text>
<path d="M92.4 727.5V800.9M89.1 797.88L248.4 798.80M88.6 727.5H92.4M89.7 743.9H92.4M89.7 739.8H92.4M89.7 736.8H92.4M89.7 734.6H92.4M89.7 732.7H92.4M89.7 731.1H92.4M89.7 729.8H92.4M89.7 728.6H92.4M88.6 751.0H92.4M89.7 767.4H92.4M89.7 763.2H92.4M89.7 760.3H92.4M89.7 758.0H92.4M89.7 756.2H92.4M89.7 754.6H92.4M89.7 753.2H92.4M89.7 752.0H92.4M88.6 774.4H92.4M89.7 790.8H92.4M89.7 786.7H92.4M89.7 783.8H92.4M89.7 781.5H92.4M89.7 779.6H92.4M89.7 778.1H92.4M89.7 776.7H92.4M89.7 775.5H92.4M88.6 797.9H92.4M131.5 798.13V801.53M170.3 798.35V801.75M209.0 798.57V801.97M248.4 798.80V802.20" stroke="#000" stroke-width="1.25" fill="none"/>
<text transform="translate(80.7,730.8) rotate(0.3) scale(0.91,1)" text-anchor="end" font-family='"Liberation Serif", serif' font-size="10.6" stroke="#000" stroke-width="0.15">1000</text>
<text transform="translate(80.7,754.3) rotate(0.3) scale(0.91,1)" text-anchor="end" font-family='"Liberation Serif", serif' font-size="10.6" stroke="#000" stroke-width="0.15">100</text>
<text transform="translate(80.7,777.7) rotate(0.3) scale(0.91,1)" text-anchor="end" font-family='"Liberation Serif", serif' font-size="10.6" stroke="#000" stroke-width="0.15">10</text>
<text transform="translate(80.7,801.2) rotate(0.3) scale(0.91,1)" text-anchor="end" font-family='"Liberation Serif", serif' font-size="10.6" stroke="#000" stroke-width="0.15">1</text>
<text transform="translate(111.0,815.60) rotate(0.3) scale(0.91,1)" text-anchor="middle" font-family='"Liberation Serif", serif' font-size="10.6" stroke="#000" stroke-width="0.15">0</text>
<text transform="translate(150.1,815.74) rotate(0.3) scale(0.91,1)" text-anchor="middle" font-family='"Liberation Serif", serif' font-size="10.6" stroke="#000" stroke-width="0.15">1</text>
<text transform="translate(188.0,815.87) rotate(0.3) scale(0.91,1)" text-anchor="middle" font-family='"Liberation Serif", serif' font-size="10.6" stroke="#000" stroke-width="0.15">12</text>
<text transform="translate(227.4,816.00) rotate(0.3) scale(0.91,1)" text-anchor="middle" font-family='"Liberation Serif", serif' font-size="10.6" stroke="#000" stroke-width="0.15">24</text>
<polyline points="112.0,770.3 150.9,740.8 189.7,731.7 228.7,732.7" fill="none" stroke="#000" stroke-width="1.35"/>
<polyline points="112.0,767.0 150.9,751.3 189.7,741.8 228.7,746.7" fill="none" stroke="#000" stroke-width="1.35"/>
<polyline points="112.0,773.5 150.9,772.0 189.7,772.0 228.7,771.0" fill="none" stroke="#000" stroke-width="1.15"/>
<polyline points="112.0,777.8 150.9,777.8 189.7,777.8 228.7,776.0" fill="none" stroke="#000" stroke-width="1.15"/>
<path d="M112.0 765.6L116.1 773.7L107.8 773.7Z" fill="#000" stroke="#000" stroke-width="1" stroke-linejoin="miter"/>
<path d="M150.9 736.1L155.1 744.2L146.8 744.2Z" fill="#000" stroke="#000" stroke-width="1" stroke-linejoin="miter"/>
<path d="M189.7 727.0L193.8 735.1L185.5 735.1Z" fill="#000" stroke="#000" stroke-width="1" stroke-linejoin="miter"/>
<path d="M228.7 728.0L232.8 736.1L224.5 736.1Z" fill="#000" stroke="#000" stroke-width="1" stroke-linejoin="miter"/>
<ellipse cx="112.0" cy="767.0" rx="3.8" ry="3.9" fill="#000" stroke="#000" stroke-width="1"/>
<ellipse cx="150.9" cy="751.3" rx="3.8" ry="3.9" fill="#000" stroke="#000" stroke-width="1"/>
<ellipse cx="189.7" cy="741.8" rx="3.8" ry="3.9" fill="#000" stroke="#000" stroke-width="1"/>
<ellipse cx="228.7" cy="746.7" rx="3.8" ry="3.9" fill="#000" stroke="#000" stroke-width="1"/>
<path d="M112.0 768.8L116.1 776.9L107.8 776.9Z" fill="#fff" stroke="#000" stroke-width="1" stroke-linejoin="miter"/>
<path d="M150.9 767.3L155.1 775.4L146.8 775.4Z" fill="#fff" stroke="#000" stroke-width="1" stroke-linejoin="miter"/>
<path d="M189.7 767.3L193.8 775.4L185.5 775.4Z" fill="#fff" stroke="#000" stroke-width="1" stroke-linejoin="miter"/>
<path d="M228.7 766.3L232.8 774.4L224.5 774.4Z" fill="#fff" stroke="#000" stroke-width="1" stroke-linejoin="miter"/>
<ellipse cx="112.0" cy="777.8" rx="3.8" ry="3.9" fill="#fff" stroke="#000" stroke-width="1"/>
<ellipse cx="150.9" cy="777.8" rx="3.8" ry="3.9" fill="#fff" stroke="#000" stroke-width="1"/>
<ellipse cx="189.7" cy="777.8" rx="3.8" ry="3.9" fill="#fff" stroke="#000" stroke-width="1"/>
<ellipse cx="228.7" cy="776.0" rx="3.8" ry="3.9" fill="#fff" stroke="#000" stroke-width="1"/>
<text transform="translate(268.75,723.75) rotate(0.3)" font-family='"Liberation Sans", sans-serif' font-weight="bold" font-size="11" stroke="#000" stroke-width="0.25" word-spacing="0" xml:space="preserve">Ct 2</text>
<path d="M328.4 730.5V804.1M325.1 801.08L486.7 802.00M324.6 730.5H328.4M325.7 746.9H328.4M325.7 742.8H328.4M325.7 739.9H328.4M325.7 737.6H328.4M325.7 735.7H328.4M325.7 734.1H328.4M325.7 732.8H328.4M325.7 731.6H328.4M324.6 754.0H328.4M325.7 770.5H328.4M325.7 766.3H328.4M325.7 763.4H328.4M325.7 761.1H328.4M325.7 759.3H328.4M325.7 757.7H328.4M325.7 756.3H328.4M325.7 755.1H328.4M324.6 777.6H328.4M325.7 794.0H328.4M325.7 789.9H328.4M325.7 786.9H328.4M325.7 784.7H328.4M325.7 782.8H328.4M325.7 781.2H328.4M325.7 779.8H328.4M325.7 778.6H328.4M324.6 801.1H328.4M367.8 801.32V804.72M407.6 801.55V804.95M447.0 801.77V805.17M486.7 802.00V805.40" stroke="#000" stroke-width="1.25" fill="none"/>
<text transform="translate(318.4,733.8) rotate(0.3) scale(0.86,1)" text-anchor="end" font-family='"Liberation Sans", sans-serif' font-size="10.7" stroke="#000" stroke-width="0.35">1000</text>
<text transform="translate(318.4,757.3) rotate(0.3) scale(0.86,1)" text-anchor="end" font-family='"Liberation Sans", sans-serif' font-size="10.7" stroke="#000" stroke-width="0.35">100</text>
<text transform="translate(318.4,780.9) rotate(0.3) scale(0.86,1)" text-anchor="end" font-family='"Liberation Sans", sans-serif' font-size="10.7" stroke="#000" stroke-width="0.35">10</text>
<text transform="translate(318.4,804.4) rotate(0.3) scale(0.86,1)" text-anchor="end" font-family='"Liberation Sans", sans-serif' font-size="10.7" stroke="#000" stroke-width="0.35">1</text>
<text transform="translate(348.3,818.20) rotate(0.3) scale(0.86,1)" text-anchor="middle" font-family='"Liberation Sans", sans-serif' font-size="10.7" stroke="#000" stroke-width="0.35">0</text>
<text transform="translate(387.0,818.33) rotate(0.3) scale(0.86,1)" text-anchor="middle" font-family='"Liberation Sans", sans-serif' font-size="10.7" stroke="#000" stroke-width="0.35">1</text>
<text transform="translate(427.2,818.47) rotate(0.3) scale(0.86,1)" text-anchor="middle" font-family='"Liberation Sans", sans-serif' font-size="10.7" stroke="#000" stroke-width="0.35">12</text>
<text transform="translate(466.7,818.60) rotate(0.3) scale(0.86,1)" text-anchor="middle" font-family='"Liberation Sans", sans-serif' font-size="10.7" stroke="#000" stroke-width="0.35">24</text>
<polyline points="348.1,776.8 387.7,747.4 427.3,745.7 466.9,746.7" fill="none" stroke="#000" stroke-width="1.35"/>
<polyline points="348.1,776.8 387.7,758.0 427.3,751.2 466.9,752.0" fill="none" stroke="#000" stroke-width="1.35"/>
<polyline points="348.1,776.8 387.7,775.5 427.3,775.5 466.9,773.4" fill="none" stroke="#000" stroke-width="1.15"/>
<polyline points="348.1,780.3 387.7,780.3 427.3,780.3 466.9,779.0" fill="none" stroke="#000" stroke-width="1.15"/>
<path d="M348.1 772.1L352.2 780.2L344.0 780.2Z" fill="#000" stroke="#000" stroke-width="1" stroke-linejoin="miter"/>
<path d="M387.7 742.7L391.9 750.8L383.6 750.8Z" fill="#000" stroke="#000" stroke-width="1" stroke-linejoin="miter"/>
<path d="M427.3 741.0L431.4 749.1L423.2 749.1Z" fill="#000" stroke="#000" stroke-width="1" stroke-linejoin="miter"/>
<path d="M466.9 742.0L471.0 750.1L462.7 750.1Z" fill="#000" stroke="#000" stroke-width="1" stroke-linejoin="miter"/>
<ellipse cx="348.1" cy="776.8" rx="3.8" ry="3.9" fill="#000" stroke="#000" stroke-width="1"/>
<ellipse cx="387.7" cy="758.0" rx="3.8" ry="3.9" fill="#000" stroke="#000" stroke-width="1"/>
<ellipse cx="427.3" cy="751.2" rx="3.8" ry="3.9" fill="#000" stroke="#000" stroke-width="1"/>
<ellipse cx="466.9" cy="752.0" rx="3.8" ry="3.9" fill="#000" stroke="#000" stroke-width="1"/>
<path d="M348.1 772.1L352.2 780.2L344.0 780.2Z" fill="#fff" stroke="#000" stroke-width="1" stroke-linejoin="miter"/>
<path d="M387.7 770.8L391.9 778.9L383.6 778.9Z" fill="#fff" stroke="#000" stroke-width="1" stroke-linejoin="miter"/>
<path d="M427.3 770.8L431.4 778.9L423.2 778.9Z" fill="#fff" stroke="#000" stroke-width="1" stroke-linejoin="miter"/>
<path d="M466.9 768.7L471.0 776.8L462.7 776.8Z" fill="#fff" stroke="#000" stroke-width="1" stroke-linejoin="miter"/>
<ellipse cx="348.1" cy="780.3" rx="3.8" ry="3.9" fill="#fff" stroke="#000" stroke-width="1"/>
<ellipse cx="387.7" cy="780.3" rx="3.8" ry="3.9" fill="#fff" stroke="#000" stroke-width="1"/>
<ellipse cx="427.3" cy="780.3" rx="3.8" ry="3.9" fill="#fff" stroke="#000" stroke-width="1"/>
<ellipse cx="466.9" cy="779.0" rx="3.8" ry="3.9" fill="#fff" stroke="#000" stroke-width="1"/>
<ellipse cx="348.1" cy="776.8" rx="3.8" ry="3.9" fill="#000" stroke="#000" stroke-width="1"/>
<text transform="translate(32,851.75) rotate(0.3)" font-family='"Liberation Sans", sans-serif' font-weight="bold" font-size="11" stroke="#000" stroke-width="0.25" word-spacing="0" xml:space="preserve">Ct 3</text>
<path d="M91.8 855.5V929.1M88.5 926.08L247.3 927.00M88.0 855.5H91.8M89.1 871.9H91.8M89.1 867.8H91.8M89.1 864.9H91.8M89.1 862.6H91.8M89.1 860.7H91.8M89.1 859.1H91.8M89.1 857.8H91.8M89.1 856.6H91.8M88.0 879.0H91.8M89.1 895.5H91.8M89.1 891.3H91.8M89.1 888.4H91.8M89.1 886.1H91.8M89.1 884.3H91.8M89.1 882.7H91.8M89.1 881.3H91.8M89.1 880.1H91.8M88.0 902.6H91.8M89.1 919.0H91.8M89.1 914.9H91.8M89.1 911.9H91.8M89.1 909.7H91.8M89.1 907.8H91.8M89.1 906.2H91.8M89.1 904.8H91.8M89.1 903.6H91.8M88.0 926.1H91.8M130.4 926.32V929.72M169.2 926.55V929.95M208.0 926.77V930.17M247.3 927.00V930.40" stroke="#000" stroke-width="1.25" fill="none"/>
<text transform="translate(81.8,858.8) rotate(0.3) scale(0.86,1)" text-anchor="end" font-family='"Liberation Sans", sans-serif' font-size="10.7" stroke="#000" stroke-width="0.35">1000</text>
<text transform="translate(81.8,882.3) rotate(0.3) scale(0.86,1)" text-anchor="end" font-family='"Liberation Sans", sans-serif' font-size="10.7" stroke="#000" stroke-width="0.35">100</text>
<text transform="translate(81.8,905.9) rotate(0.3) scale(0.86,1)" text-anchor="end" font-family='"Liberation Sans", sans-serif' font-size="10.7" stroke="#000" stroke-width="0.35">10</text>
<text transform="translate(81.8,929.4) rotate(0.3) scale(0.86,1)" text-anchor="end" font-family='"Liberation Sans", sans-serif' font-size="10.7" stroke="#000" stroke-width="0.35">1</text>
<text transform="translate(110.3,942.60) rotate(0.3) scale(0.86,1)" text-anchor="middle" font-family='"Liberation Sans", sans-serif' font-size="10.7" stroke="#000" stroke-width="0.35">0</text>
<text transform="translate(148.9,942.73) rotate(0.3) scale(0.86,1)" text-anchor="middle" font-family='"Liberation Sans", sans-serif' font-size="10.7" stroke="#000" stroke-width="0.35">1</text>
<text transform="translate(188.2,942.87) rotate(0.3) scale(0.86,1)" text-anchor="middle" font-family='"Liberation Sans", sans-serif' font-size="10.7" stroke="#000" stroke-width="0.35">12</text>
<text transform="translate(226.8,943.00) rotate(0.3) scale(0.86,1)" text-anchor="middle" font-family='"Liberation Sans", sans-serif' font-size="10.7" stroke="#000" stroke-width="0.35">24</text>
<polyline points="111.1,896.3 149.8,871.8 188.6,873.1 227.7,874.1" fill="none" stroke="#000" stroke-width="1.35"/>
<polyline points="111.1,892.7 149.8,875.8 188.6,870.8 227.7,874.1" fill="none" stroke="#000" stroke-width="1.35"/>
<polyline points="111.1,901.2 149.8,900.3 188.6,900.3 227.7,903.5" fill="none" stroke="#000" stroke-width="1.15"/>
<polyline points="111.1,900.3 149.8,902.5 188.6,898.6 227.7,901.9" fill="none" stroke="#000" stroke-width="1.15"/>
<path d="M111.1 891.6L115.2 899.7L106.9 899.7Z" fill="#000" stroke="#000" stroke-width="1" stroke-linejoin="miter"/>
<path d="M149.8 867.1L154.0 875.2L145.7 875.2Z" fill="#000" stroke="#000" stroke-width="1" stroke-linejoin="miter"/>
<path d="M188.6 868.4L192.8 876.5L184.4 876.5Z" fill="#000" stroke="#000" stroke-width="1" stroke-linejoin="miter"/>
<path d="M227.7 869.4L231.8 877.5L223.5 877.5Z" fill="#000" stroke="#000" stroke-width="1" stroke-linejoin="miter"/>
<ellipse cx="111.1" cy="892.7" rx="3.8" ry="3.9" fill="#000" stroke="#000" stroke-width="1"/>
<ellipse cx="149.8" cy="875.8" rx="3.8" ry="3.9" fill="#000" stroke="#000" stroke-width="1"/>
<ellipse cx="188.6" cy="870.8" rx="3.8" ry="3.9" fill="#000" stroke="#000" stroke-width="1"/>
<ellipse cx="227.7" cy="874.1" rx="3.8" ry="3.9" fill="#000" stroke="#000" stroke-width="1"/>
<ellipse cx="111.1" cy="901.2" rx="3.8" ry="3.9" fill="#fff" stroke="#000" stroke-width="1"/>
<ellipse cx="149.8" cy="900.3" rx="3.8" ry="3.9" fill="#fff" stroke="#000" stroke-width="1"/>
<ellipse cx="188.6" cy="900.3" rx="3.8" ry="3.9" fill="#fff" stroke="#000" stroke-width="1"/>
<ellipse cx="227.7" cy="903.5" rx="3.8" ry="3.9" fill="#fff" stroke="#000" stroke-width="1"/>
<path d="M111.1 895.6L115.2 903.7L106.9 903.7Z" fill="#fff" stroke="#000" stroke-width="1" stroke-linejoin="miter"/>
<path d="M149.8 897.8L154.0 905.9L145.7 905.9Z" fill="#fff" stroke="#000" stroke-width="1" stroke-linejoin="miter"/>
<path d="M188.6 893.9L192.8 902.0L184.4 902.0Z" fill="#fff" stroke="#000" stroke-width="1" stroke-linejoin="miter"/>
<path d="M227.7 897.2L231.8 905.3L223.5 905.3Z" fill="#fff" stroke="#000" stroke-width="1" stroke-linejoin="miter"/>
<ellipse cx="111.1" cy="901.2" rx="3.8" ry="3.9" fill="#fff" stroke="#000" stroke-width="1"/>
<ellipse cx="149.8" cy="900.3" rx="3.8" ry="3.9" fill="#fff" stroke="#000" stroke-width="1"/>
<ellipse cx="188.6" cy="900.3" rx="3.8" ry="3.9" fill="#fff" stroke="#000" stroke-width="1"/>
<text transform="translate(268.75,855.5) rotate(0.3)" font-family='"Liberation Sans", sans-serif' font-weight="bold" font-size="11" stroke="#000" stroke-width="0.25" word-spacing="0" xml:space="preserve">Ct 4</text>
<path d="M328.4 855.5V930.0M325.1 926.98L488.2 927.90M324.6 855.5H328.4M325.7 880.5H328.4M325.7 874.2H328.4M325.7 869.7H328.4M325.7 866.3H328.4M325.7 863.4H328.4M325.7 861.0H328.4M325.7 859.0H328.4M325.7 857.1H328.4M324.6 891.2H328.4M325.7 916.2H328.4M325.7 909.9H328.4M325.7 905.5H328.4M325.7 902.0H328.4M325.7 899.2H328.4M325.7 896.8H328.4M325.7 894.7H328.4M325.7 892.9H328.4M324.6 927.0H328.4M368.6 927.23V930.63M408.5 927.45V930.85M448.0 927.67V931.07M488.2 927.90V931.30" stroke="#000" stroke-width="1.25" fill="none"/>
<text transform="translate(318.4,858.8) rotate(0.3) scale(0.86,1)" text-anchor="end" font-family='"Liberation Sans", sans-serif' font-size="10.7" stroke="#000" stroke-width="0.35">100</text>
<text transform="translate(318.4,894.5) rotate(0.3) scale(0.86,1)" text-anchor="end" font-family='"Liberation Sans", sans-serif' font-size="10.7" stroke="#000" stroke-width="0.35">10</text>
<text transform="translate(318.4,930.3) rotate(0.3) scale(0.86,1)" text-anchor="end" font-family='"Liberation Sans", sans-serif' font-size="10.7" stroke="#000" stroke-width="0.35">1</text>
<text transform="translate(347.8,944.20) rotate(0.3) scale(0.86,1)" text-anchor="middle" font-family='"Liberation Sans", sans-serif' font-size="10.7" stroke="#000" stroke-width="0.35">0</text>
<text transform="translate(388.0,944.34) rotate(0.3) scale(0.86,1)" text-anchor="middle" font-family='"Liberation Sans", sans-serif' font-size="10.7" stroke="#000" stroke-width="0.35">1</text>
<text transform="translate(428.2,944.47) rotate(0.3) scale(0.86,1)" text-anchor="middle" font-family='"Liberation Sans", sans-serif' font-size="10.7" stroke="#000" stroke-width="0.35">12</text>
<text transform="translate(468.4,944.61) rotate(0.3) scale(0.86,1)" text-anchor="middle" font-family='"Liberation Sans", sans-serif' font-size="10.7" stroke="#000" stroke-width="0.35">24</text>
<polyline points="348.5,887.8 388.6,876.7 428.2,874.3 468.1,871.5" fill="none" stroke="#000" stroke-width="1.35"/>
<polyline points="348.5,883.7 388.6,879.5 428.2,879.5 468.1,874.0" fill="none" stroke="#000" stroke-width="1.35"/>
<polyline points="348.5,887.0 388.6,891.6 428.2,891.0 468.1,891.3" fill="none" stroke="#000" stroke-width="1.15"/>
<polyline points="348.5,887.8 388.6,891.6 428.2,891.6 468.1,892.3" fill="none" stroke="#000" stroke-width="1.15"/>
<path d="M348.5 883.1L352.6 891.2L344.4 891.2Z" fill="#000" stroke="#000" stroke-width="1" stroke-linejoin="miter"/>
<path d="M388.6 872.0L392.7 880.1L384.4 880.1Z" fill="#000" stroke="#000" stroke-width="1" stroke-linejoin="miter"/>
<path d="M428.2 869.6L432.4 877.7L424.1 877.7Z" fill="#000" stroke="#000" stroke-width="1" stroke-linejoin="miter"/>
<path d="M468.1 866.8L472.2 874.9L464.0 874.9Z" fill="#000" stroke="#000" stroke-width="1" stroke-linejoin="miter"/>
<ellipse cx="348.5" cy="883.7" rx="3.8" ry="3.9" fill="#000" stroke="#000" stroke-width="1"/>
<ellipse cx="388.6" cy="879.5" rx="3.8" ry="3.9" fill="#000" stroke="#000" stroke-width="1"/>
<ellipse cx="428.2" cy="879.5" rx="3.8" ry="3.9" fill="#000" stroke="#000" stroke-width="1"/>
<ellipse cx="468.1" cy="874.0" rx="3.8" ry="3.9" fill="#000" stroke="#000" stroke-width="1"/>
<ellipse cx="348.5" cy="887.0" rx="3.8" ry="3.9" fill="#fff" stroke="#000" stroke-width="1"/>
<ellipse cx="388.6" cy="891.6" rx="3.8" ry="3.9" fill="#fff" stroke="#000" stroke-width="1"/>
<ellipse cx="428.2" cy="891.0" rx="3.8" ry="3.9" fill="#fff" stroke="#000" stroke-width="1"/>
<ellipse cx="468.1" cy="891.3" rx="3.8" ry="3.9" fill="#fff" stroke="#000" stroke-width="1"/>
<path d="M348.5 883.1L352.6 891.2L344.4 891.2Z" fill="#fff" stroke="#000" stroke-width="1" stroke-linejoin="miter"/>
<path d="M388.6 886.9L392.7 895.0L384.4 895.0Z" fill="#fff" stroke="#000" stroke-width="1" stroke-linejoin="miter"/>
<path d="M428.2 886.9L432.4 895.0L424.1 895.0Z" fill="#fff" stroke="#000" stroke-width="1" stroke-linejoin="miter"/>
<path d="M468.1 887.6L472.2 895.7L464.0 895.7Z" fill="#fff" stroke="#000" stroke-width="1" stroke-linejoin="miter"/>
<text transform="translate(32,976.25) rotate(0.3)" font-family='"Liberation Sans", sans-serif' font-weight="bold" font-size="11" stroke="#000" stroke-width="0.25" word-spacing="0" xml:space="preserve">Ct 5</text>
<path d="M87.8 978.0V1051.4M84.5 1048.38L243.9 1049.30M84.0 978.0H87.8M85.1 1002.6H87.8M85.1 996.4H87.8M85.1 992.0H87.8M85.1 988.6H87.8M85.1 985.8H87.8M85.1 983.5H87.8M85.1 981.4H87.8M85.1 979.6H87.8M84.0 1013.2H87.8M85.1 1037.8H87.8M85.1 1031.6H87.8M85.1 1027.2H87.8M85.1 1023.8H87.8M85.1 1021.0H87.8M85.1 1018.7H87.8M85.1 1016.6H87.8M85.1 1014.8H87.8M84.0 1048.4H87.8M127.0 1048.63V1052.03M165.9 1048.85V1052.25M204.6 1049.07V1052.47M243.9 1049.30V1052.70" stroke="#000" stroke-width="1.25" fill="none"/>
<text transform="translate(77.8,981.3) rotate(0.3) scale(0.86,1)" text-anchor="end" font-family='"Liberation Sans", sans-serif' font-size="10.7" stroke="#000" stroke-width="0.35">100</text>
<text transform="translate(77.8,1016.5) rotate(0.3) scale(0.86,1)" text-anchor="end" font-family='"Liberation Sans", sans-serif' font-size="10.7" stroke="#000" stroke-width="0.35">10</text>
<text transform="translate(77.8,1051.7) rotate(0.3) scale(0.86,1)" text-anchor="end" font-family='"Liberation Sans", sans-serif' font-size="10.7" stroke="#000" stroke-width="0.35">1</text>
<text transform="translate(107.0,1065.80) rotate(0.3) scale(0.86,1)" text-anchor="middle" font-family='"Liberation Sans", sans-serif' font-size="10.7" stroke="#000" stroke-width="0.35">0</text>
<text transform="translate(146.0,1065.93) rotate(0.3) scale(0.86,1)" text-anchor="middle" font-family='"Liberation Sans", sans-serif' font-size="10.7" stroke="#000" stroke-width="0.35">1</text>
<text transform="translate(184.6,1066.07) rotate(0.3) scale(0.86,1)" text-anchor="middle" font-family='"Liberation Sans", sans-serif' font-size="10.7" stroke="#000" stroke-width="0.35">12</text>
<text transform="translate(224.0,1066.20) rotate(0.3) scale(0.86,1)" text-anchor="middle" font-family='"Liberation Sans", sans-serif' font-size="10.7" stroke="#000" stroke-width="0.35">24</text>
<polyline points="107.4,1012.3 146.4,987.4 185.2,994.0 224.2,992.6" fill="none" stroke="#000" stroke-width="1.35"/>
<polyline points="107.4,1003.0 146.4,1004.3 185.2,1008.2 224.2,1006.4" fill="none" stroke="#000" stroke-width="1.35"/>
<polyline points="107.4,1021.0 146.4,1019.2 185.2,1023.7 224.2,1010.6" fill="none" stroke="#000" stroke-width="1.15"/>
<polyline points="107.4,1011.3 146.4,1009.9 185.2,1013.3 224.2,1009.9" fill="none" stroke="#000" stroke-width="1.15"/>
<path d="M107.4 1007.6L111.6 1015.7L103.2 1015.7Z" fill="#000" stroke="#000" stroke-width="1" stroke-linejoin="miter"/>
<path d="M146.4 982.7L150.6 990.8L142.3 990.8Z" fill="#000" stroke="#000" stroke-width="1" stroke-linejoin="miter"/>
<path d="M185.2 989.3L189.4 997.4L181.1 997.4Z" fill="#000" stroke="#000" stroke-width="1" stroke-linejoin="miter"/>
<path d="M224.2 987.9L228.4 996.0L220.1 996.0Z" fill="#000" stroke="#000" stroke-width="1" stroke-linejoin="miter"/>
<ellipse cx="107.4" cy="1003.0" rx="3.8" ry="3.9" fill="#000" stroke="#000" stroke-width="1"/>
<ellipse cx="146.4" cy="1004.3" rx="3.8" ry="3.9" fill="#000" stroke="#000" stroke-width="1"/>
<ellipse cx="185.2" cy="1008.2" rx="3.8" ry="3.9" fill="#000" stroke="#000" stroke-width="1"/>
<ellipse cx="224.2" cy="1006.4" rx="3.8" ry="3.9" fill="#000" stroke="#000" stroke-width="1"/>
<path d="M107.4 1016.3L111.6 1024.4L103.2 1024.4Z" fill="#fff" stroke="#000" stroke-width="1" stroke-linejoin="miter"/>
<path d="M146.4 1014.5L150.6 1022.6L142.3 1022.6Z" fill="#fff" stroke="#000" stroke-width="1" stroke-linejoin="miter"/>
<path d="M185.2 1019.0L189.4 1027.1L181.1 1027.1Z" fill="#fff" stroke="#000" stroke-width="1" stroke-linejoin="miter"/>
<path d="M224.2 1005.9L228.4 1014.0L220.1 1014.0Z" fill="#fff" stroke="#000" stroke-width="1" stroke-linejoin="miter"/>
<ellipse cx="107.4" cy="1011.3" rx="3.8" ry="3.9" fill="#fff" stroke="#000" stroke-width="1"/>
<ellipse cx="146.4" cy="1009.9" rx="3.8" ry="3.9" fill="#fff" stroke="#000" stroke-width="1"/>
<ellipse cx="185.2" cy="1013.3" rx="3.8" ry="3.9" fill="#fff" stroke="#000" stroke-width="1"/>
<ellipse cx="224.2" cy="1009.9" rx="3.8" ry="3.9" fill="#fff" stroke="#000" stroke-width="1"/>
<text transform="translate(268.25,977) rotate(0.3)" font-family='"Liberation Sans", sans-serif' font-weight="bold" font-size="11" stroke="#000" stroke-width="0.25" word-spacing="0" xml:space="preserve">Ct 6</text>
<path d="M327.4 980.0V1055.1M324.1 1052.08L487.8 1053.00M323.6 980.0H327.4M324.7 996.8H327.4M324.7 992.6H327.4M324.7 989.6H327.4M324.7 987.2H327.4M324.7 985.3H327.4M324.7 983.7H327.4M324.7 982.3H327.4M324.7 981.1H327.4M323.6 1004.0H327.4M324.7 1020.8H327.4M324.7 1016.6H327.4M324.7 1013.6H327.4M324.7 1011.3H327.4M324.7 1009.4H327.4M324.7 1007.8H327.4M324.7 1006.4H327.4M324.7 1005.1H327.4M323.6 1028.1H327.4M324.7 1044.9H327.4M324.7 1040.6H327.4M324.7 1037.6H327.4M324.7 1035.3H327.4M324.7 1033.4H327.4M324.7 1031.8H327.4M324.7 1030.4H327.4M324.7 1029.2H327.4M323.6 1052.1H327.4M367.8 1052.33V1055.73M408.2 1052.55V1055.95M447.9 1052.78V1056.18M487.8 1053.00V1056.40" stroke="#000" stroke-width="1.25" fill="none"/>
<text transform="translate(317.4,983.3) rotate(0.3) scale(0.86,1)" text-anchor="end" font-family='"Liberation Sans", sans-serif' font-size="10.7" stroke="#000" stroke-width="0.35">1000</text>
<text transform="translate(317.4,1007.3) rotate(0.3) scale(0.86,1)" text-anchor="end" font-family='"Liberation Sans", sans-serif' font-size="10.7" stroke="#000" stroke-width="0.35">100</text>
<text transform="translate(317.4,1031.4) rotate(0.3) scale(0.86,1)" text-anchor="end" font-family='"Liberation Sans", sans-serif' font-size="10.7" stroke="#000" stroke-width="0.35">10</text>
<text transform="translate(317.4,1055.4) rotate(0.3) scale(0.86,1)" text-anchor="end" font-family='"Liberation Sans", sans-serif' font-size="10.7" stroke="#000" stroke-width="0.35">1</text>
<text transform="translate(347.5,1068.40) rotate(0.3) scale(0.86,1)" text-anchor="middle" font-family='"Liberation Sans", sans-serif' font-size="10.7" stroke="#000" stroke-width="0.35">0</text>
<text transform="translate(387.8,1068.54) rotate(0.3) scale(0.86,1)" text-anchor="middle" font-family='"Liberation Sans", sans-serif' font-size="10.7" stroke="#000" stroke-width="0.35">1</text>
<text transform="translate(428.0,1068.67) rotate(0.3) scale(0.86,1)" text-anchor="middle" font-family='"Liberation Sans", sans-serif' font-size="10.7" stroke="#000" stroke-width="0.35">12</text>
<text transform="translate(468.1,1068.81) rotate(0.3) scale(0.86,1)" text-anchor="middle" font-family='"Liberation Sans", sans-serif' font-size="10.7" stroke="#000" stroke-width="0.35">24</text>
<polyline points="347.6,1037.6 388.0,997.4 428.0,994.3 467.9,996.7" fill="none" stroke="#000" stroke-width="1.35"/>
<polyline points="347.6,1026.8 388.0,1008.8 428.0,999.5 467.9,1003.7" fill="none" stroke="#000" stroke-width="1.35"/>
<polyline points="347.6,1037.6 388.0,1035.5 428.0,1040.7 467.9,1026.2" fill="none" stroke="#000" stroke-width="1.15"/>
<polyline points="347.6,1035.5 388.0,1026.2 428.0,1025.5 467.9,1025.1" fill="none" stroke="#000" stroke-width="1.15"/>
<path d="M347.6 1032.9L351.8 1041.0L343.5 1041.0Z" fill="#000" stroke="#000" stroke-width="1" stroke-linejoin="miter"/>
<path d="M388.0 992.7L392.1 1000.8L383.9 1000.8Z" fill="#000" stroke="#000" stroke-width="1" stroke-linejoin="miter"/>
<path d="M428.0 989.6L432.2 997.7L423.9 997.7Z" fill="#000" stroke="#000" stroke-width="1" stroke-linejoin="miter"/>
<path d="M467.9 992.0L472.0 1000.1L463.7 1000.1Z" fill="#000" stroke="#000" stroke-width="1" stroke-linejoin="miter"/>
<ellipse cx="347.6" cy="1026.8" rx="3.8" ry="3.9" fill="#000" stroke="#000" stroke-width="1"/>
<ellipse cx="388.0" cy="1008.8" rx="3.8" ry="3.9" fill="#000" stroke="#000" stroke-width="1"/>
<ellipse cx="428.0" cy="999.5" rx="3.8" ry="3.9" fill="#000" stroke="#000" stroke-width="1"/>
<ellipse cx="467.9" cy="1003.7" rx="3.8" ry="3.9" fill="#000" stroke="#000" stroke-width="1"/>
<path d="M347.6 1032.9L351.8 1041.0L343.5 1041.0Z" fill="#fff" stroke="#000" stroke-width="1" stroke-linejoin="miter"/>
<path d="M388.0 1030.8L392.1 1038.9L383.9 1038.9Z" fill="#fff" stroke="#000" stroke-width="1" stroke-linejoin="miter"/>
<path d="M428.0 1036.0L432.2 1044.1L423.9 1044.1Z" fill="#fff" stroke="#000" stroke-width="1" stroke-linejoin="miter"/>
<path d="M467.9 1021.5L472.0 1029.6L463.7 1029.6Z" fill="#fff" stroke="#000" stroke-width="1" stroke-linejoin="miter"/>
<ellipse cx="347.6" cy="1035.5" rx="3.8" ry="3.9" fill="#fff" stroke="#000" stroke-width="1"/>
<ellipse cx="388.0" cy="1026.2" rx="3.8" ry="3.9" fill="#fff" stroke="#000" stroke-width="1"/>
<ellipse cx="428.0" cy="1025.5" rx="3.8" ry="3.9" fill="#fff" stroke="#000" stroke-width="1"/>
<ellipse cx="467.9" cy="1025.1" rx="3.8" ry="3.9" fill="#fff" stroke="#000" stroke-width="1"/>
<text transform="translate(1.3,19.9) rotate(0.3) scale(1.06,1)" font-family='"Liberation Sans", sans-serif' font-weight="bold" font-size="23" stroke="#000" stroke-width="0.5">A</text>
<text transform="translate(0.5,723.6) rotate(0.3) scale(1.05,1)" font-family='"Liberation Sans", sans-serif' font-weight="bold" font-size="23" stroke="#000" stroke-width="0.5">B</text>
<text transform="translate(404.90000000000003,517.8000000000001) rotate(0.3) scale(1.04,1)" text-anchor="middle" font-family='"Liberation Sans", sans-serif' font-weight="bold" font-size="13" stroke="#000" stroke-width="0.4">Months</text>
<text transform="translate(175.4,639.3000000000001) rotate(0.3) scale(1.04,1)" text-anchor="middle" font-family='"Liberation Sans", sans-serif' font-weight="bold" font-size="13" stroke="#000" stroke-width="0.4">Months</text>
<text transform="translate(172.2,1090.4) rotate(0.3) scale(1.04,1)" text-anchor="middle" font-family='"Liberation Sans", sans-serif' font-weight="bold" font-size="13" stroke="#000" stroke-width="0.4">Months</text>
<text transform="translate(409.3,1091.0) rotate(0.3) scale(1.04,1)" text-anchor="middle" font-family='"Liberation Sans", sans-serif' font-weight="bold" font-size="13" stroke="#000" stroke-width="0.4">Months</text>
<path d="M292.3 539.5L516 540.2L515.6 673.7L292.1 672.7Z" fill="none" stroke="#000" stroke-width="1.9" stroke-linejoin="miter"/>
<path d="M323.3 560.3V620.0M320.3 616.5L497.5 617.3M320.1 560.3H323.3M320.1 571.5H323.3M320.1 582.8H323.3M320.1 594.0H323.3M320.1 605.3H323.3M320.1 616.5H323.3M367.2 616.70V620.70M410.6 616.90V620.90M454.2 617.10V621.10M497.5 617.30V621.30" stroke="#000" stroke-width="1.4" fill="none"/>
<text transform="translate(315.8,564.1) rotate(0.2)" text-anchor="end" font-family='"Liberation Sans", sans-serif' font-size="10.5" textLength="14.25" lengthAdjust="spacingAndGlyphs" stroke="#000" stroke-width="0.3">500</text>
<text transform="translate(315.8,575.3) rotate(0.2)" text-anchor="end" font-family='"Liberation Sans", sans-serif' font-size="10.5" textLength="14.25" lengthAdjust="spacingAndGlyphs" stroke="#000" stroke-width="0.3">400</text>
<text transform="translate(315.8,586.6) rotate(0.2)" text-anchor="end" font-family='"Liberation Sans", sans-serif' font-size="10.5" textLength="14.25" lengthAdjust="spacingAndGlyphs" stroke="#000" stroke-width="0.3">300</text>
<text transform="translate(315.8,597.8) rotate(0.2)" text-anchor="end" font-family='"Liberation Sans", sans-serif' font-size="10.5" textLength="14.25" lengthAdjust="spacingAndGlyphs" stroke="#000" stroke-width="0.3">200</text>
<text transform="translate(315.8,609.1) rotate(0.2)" text-anchor="end" font-family='"Liberation Sans", sans-serif' font-size="10.5" textLength="14.25" lengthAdjust="spacingAndGlyphs" stroke="#000" stroke-width="0.3">100</text>
<text transform="translate(315.8,620.3) rotate(0.2)" text-anchor="end" font-family='"Liberation Sans", sans-serif' font-size="10.5" textLength="4.75" lengthAdjust="spacingAndGlyphs" stroke="#000" stroke-width="0.3">0</text>
<text transform="translate(345,636.8) rotate(0.2)" text-anchor="middle" font-family='"Liberation Sans", sans-serif' font-size="10.5" textLength="4.75" lengthAdjust="spacingAndGlyphs" stroke="#000" stroke-width="0.3">0</text>
<text transform="translate(388,636.8) rotate(0.2)" text-anchor="middle" font-family='"Liberation Sans", sans-serif' font-size="10.5" textLength="4.75" lengthAdjust="spacingAndGlyphs" stroke="#000" stroke-width="0.3">1</text>
<text transform="translate(431.7,636.8) rotate(0.2)" text-anchor="middle" font-family='"Liberation Sans", sans-serif' font-size="10.5" textLength="4.75" lengthAdjust="spacingAndGlyphs" stroke="#000" stroke-width="0.3">5</text>
<text transform="translate(475,636.8) rotate(0.2)" text-anchor="middle" font-family='"Liberation Sans", sans-serif' font-size="10.5" textLength="9.5" lengthAdjust="spacingAndGlyphs" stroke="#000" stroke-width="0.3">10</text>
<text transform="translate(373.5,657.8) rotate(0.2)" font-family='"Liberation Sans", sans-serif' font-size="11.5" textLength="76.5" lengthAdjust="spacingAndGlyphs" stroke="#000" stroke-width="0.45">HBenvAg µg/mL</text>
<path d="M388 596.2V586.2M385.8 586.2H390.2" stroke="#000" stroke-width="0.8" fill="none"/>
<path d="M431.7 591.2V580.7M429.5 580.7H433.9" stroke="#000" stroke-width="0.8" fill="none"/>
<path d="M475 575V560.5M472.8 560.5H477.2" stroke="#000" stroke-width="0.8" fill="none"/>
<path d="M475 598V592.5M473 592.5H477" stroke="#000" stroke-width="0.8" fill="none"/>
<polyline points="345.0,615.0 388.0,596.2 431.7,591.2 475.0,575.0" fill="none" stroke="#000" stroke-width="2"/>
<polyline points="345.0,615.0 388.0,607.0 431.7,603.2 475.0,598.7" fill="none" stroke="#000" stroke-width="2"/>
<path d="M345 609.4L349.5 619.0L340.5 619.0Z" fill="#000" stroke="#000" stroke-width="1"/>
<path d="M388 590.6L392.5 600.2L383.5 600.2Z" fill="#000" stroke="#000" stroke-width="1"/>
<path d="M431.7 585.6L436.2 595.2L427.2 595.2Z" fill="#000" stroke="#000" stroke-width="1"/>
<path d="M475 569.4L479.5 579.0L470.5 579.0Z" fill="#000" stroke="#000" stroke-width="1"/>
<ellipse cx="345" cy="615" rx="4.2" ry="5.4" fill="#000"/>
<ellipse cx="388" cy="607" rx="4.2" ry="5.4" fill="#000"/>
<ellipse cx="431.7" cy="603.2" rx="4.2" ry="5.4" fill="#000"/>
<ellipse cx="475" cy="598.7" rx="4.2" ry="5.4" fill="#000"/>
</g>
</svg>
</body></html>
